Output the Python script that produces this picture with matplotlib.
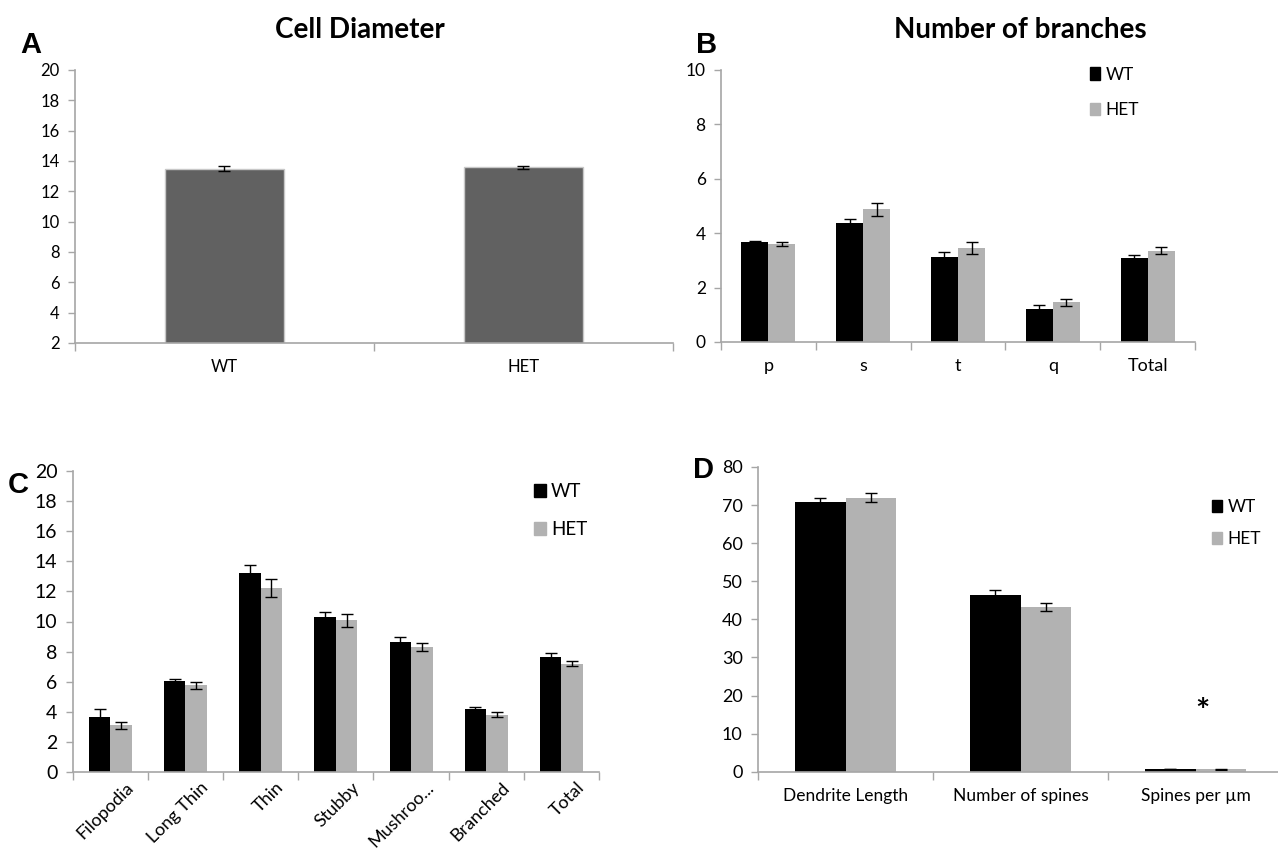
import numpy as np
import matplotlib
matplotlib.use("Agg")
import matplotlib.pyplot as plt
from matplotlib.patches import Patch

plt.rcParams['font.family'] = ['Lato', 'DejaVu Sans']

# data
a_groups = ['WT', 'HET']
a_vals = [13.5, 13.58]
a_err = [0.15, 0.1]

b_cats = ['p', 's', 't', 'q', 'Total']
b_wt = [3.69, 4.36, 3.11, 1.20, 3.09]
b_wt_err = [0.04, 0.15, 0.2, 0.16, 0.12]
b_het = [3.61, 4.88, 3.45, 1.46, 3.36]
b_het_err = [0.08, 0.24, 0.21, 0.13, 0.12]

c_cats = ['Filopodia', 'Long Thin', 'Thin', 'Stubby', 'Mushroo...', 'Branched', 'Total']
c_wt = [3.67, 6.06, 13.19, 10.31, 8.67, 4.20, 7.65]
c_wt_err = [0.5, 0.1, 0.57, 0.35, 0.3, 0.11, 0.25]
c_het = [3.10, 5.75, 12.23, 10.09, 8.30, 3.81, 7.19]
c_het_err = [0.24, 0.25, 0.6, 0.44, 0.25, 0.17, 0.16]

d_cats = ['Dendrite Length', 'Number of spines', 'Spines per µm']
d_wt = [70.7, 46.4, 0.65]
d_wt_err = [1.2, 1.3, 0.05]
d_het = [71.95, 43.3, 0.6]
d_het_err = [1.1, 1.1, 0.05]

W, H = 1278, 851
fig = plt.figure(figsize=(W / 100, H / 100), dpi=100)

def px_axes(left, right, top, bottom):
    return fig.add_axes([left / W, 1 - bottom / H, (right - left) / W, (bottom - top) / H])

axis_grey = '#a6a6a6'
WT_COL = 'black'
HET_COL = '#b2b2b2'

def style(ax, n, ymin, ymax, step, fs):
    for s in ['top', 'right']:
        ax.spines[s].set_visible(False)
    for s in ['left', 'bottom']:
        ax.spines[s].set_color(axis_grey)
        ax.spines[s].set_linewidth(1.2)
    ax.set_xlim(0, n)
    ax.set_ylim(ymin, ymax)
    ax.set_yticks(np.arange(ymin, ymax + 0.01, step))
    ax.set_xticks(np.arange(0, n + 1), minor=False)
    ax.set_xticklabels([])
    ax.tick_params(axis='y', color=axis_grey, length=5, width=1, labelsize=fs, pad=6)
    ax.tick_params(axis='x', color=axis_grey, length=6, width=1, direction='out')

def grouped(ax, wt, wte, het, het_e, bw):
    x = np.arange(len(wt)) + 0.5
    ekw = dict(ecolor='black', elinewidth=1, capsize=4, capthick=1)
    ax.bar(x - bw / 2, wt, bw, color=WT_COL, yerr=wte, error_kw=ekw, zorder=2)
    ax.bar(x + bw / 2, het, bw, color=HET_COL, yerr=het_e, error_kw=ekw, zorder=2)
    return x

def add_legend(ax, anchor, fs, spacing):
    handles = [Patch(color=WT_COL, label='WT'), Patch(color=HET_COL, label='HET')]
    ax.legend(handles=handles, loc='upper left', bbox_to_anchor=anchor, frameon=False,
              handlelength=0.6, handleheight=0.7, handletextpad=0.3,
              labelspacing=spacing, fontsize=fs)

# Panel A
axA = px_axes(75, 673, 70, 343)
style(axA, 2, 2, 20, 2, 12)
xa = np.arange(2) + 0.5
axA.bar(xa, a_vals, 0.4, bottom=0, color='#616161', edgecolor='#c8c8c8', linewidth=1,
        yerr=a_err, error_kw=dict(ecolor='black', elinewidth=1, capsize=4, capthick=1), zorder=2)
axA.set_ylim(2, 20)
for x, lab in zip(xa, a_groups):
    axA.text(x, -0.06, lab, transform=axA.get_xaxis_transform(), ha='center', va='top', fontsize=12)
fig.text(360 / W, 1 - 30 / H, 'Cell Diameter', ha='center', va='center', fontsize=20, fontweight='bold')
fig.text(20 / W, 1 - 45 / H, 'A', ha='left', va='center', fontsize=21, fontweight='bold',
         family=['Liberation Sans', 'DejaVu Sans'])

# Panel B
axB = px_axes(721, 1195, 70, 342)
style(axB, 5, 0, 10, 2, 12.5)
xb = grouped(axB, b_wt, b_wt_err, b_het, b_het_err, 0.285)
for x, lab in zip(xb, b_cats):
    axB.text(x, -0.06, lab, transform=axB.get_xaxis_transform(), ha='center', va='top', fontsize=13)
add_legend(axB, (0.745, 1.07), 12.5, 1.1)
fig.text(1020 / W, 1 - 30 / H, 'Number of branches', ha='center', va='center', fontsize=20, fontweight='bold')
fig.text(696 / W, 1 - 45 / H, 'B', ha='left', va='center', fontsize=21, fontweight='bold',
         family=['Liberation Sans', 'DejaVu Sans'])

# Panel C
axC = px_axes(72.7, 599, 471, 772)
style(axC, 7, 0, 20, 2, 14)
xc = grouped(axC, c_wt, c_wt_err, c_het, c_het_err, 0.286)
for x, lab in zip(xc, c_cats):
    axC.text(x + 0.2, -0.025, lab, transform=axC.get_xaxis_transform(), ha='right', va='top',
             rotation=45, rotation_mode='anchor', fontsize=13)
add_legend(axC, (0.845, 1.015), 13.5, 1.1)
fig.text(8 / W, 1 - 485 / H, 'C', ha='left', va='center', fontsize=21, fontweight='bold',
         family=['Liberation Sans', 'DejaVu Sans'])

# Panel D
axD = px_axes(758, 1283, 467, 771.7)
style(axD, 3, 0, 80, 10, 13)
xd = grouped(axD, d_wt, d_wt_err, d_het, d_het_err, 0.29)
for x, lab in zip(xd, d_cats):
    axD.text(x, -0.055, lab, transform=axD.get_xaxis_transform(), ha='center', va='top', fontsize=12.5)
axD.text(xd[2] + 0.04, 15.5, '*', ha='center', va='center', fontsize=24, fontweight='bold')
add_legend(axD, (0.835, 0.946), 12.5, 0.9)
fig.text(693 / W, 1 - 470 / H, 'D', ha='left', va='center', fontsize=21, fontweight='bold',
         family=['Liberation Sans', 'DejaVu Sans'])

fig.savefig('out.png', dpi=100, facecolor='white')
